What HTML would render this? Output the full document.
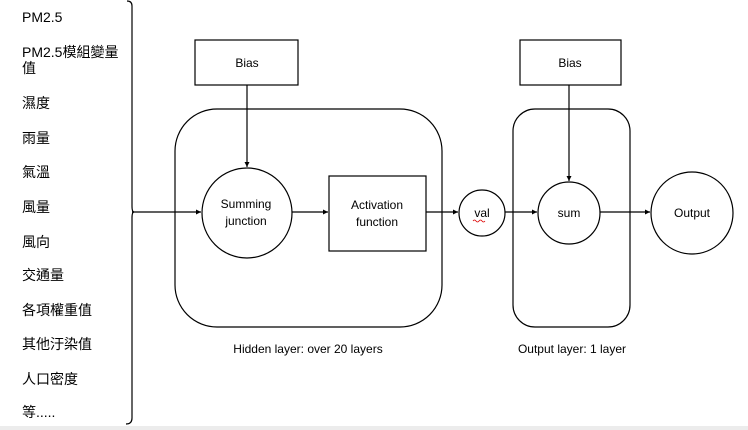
<!DOCTYPE html>
<html><head><meta charset="utf-8"><style>
html,body{margin:0;padding:0;background:#fff;}
svg{display:block;}
text{font-family:"Liberation Sans","Noto Sans CJK TC",sans-serif;fill:#000;}
</style></head><body>
<svg width="748" height="430" viewBox="0 0 748 430" xmlns="http://www.w3.org/2000/svg">
<defs><marker id="a" markerWidth="6" markerHeight="6" refX="5" refY="3" orient="auto" markerUnits="userSpaceOnUse"><path d="M0,0.5 L5,3 L0,5.5 Z" fill="#000"/></marker></defs>
<rect x="0" y="426" width="748" height="4" fill="#ececec"/>
<g font-size="14">
<text x="22" y="22">PM2.5</text>
<text x="22" y="57">PM2.5模組變量</text>
<text x="22" y="73">值</text>
<text x="22" y="108">濕度</text>
<text x="22" y="143">雨量</text>
<text x="22" y="177">氣溫</text>
<text x="22" y="212">風量</text>
<text x="22" y="247">風向</text>
<text x="22" y="280">交通量</text>
<text x="22" y="315">各項權重值</text>
<text x="22" y="349">其他汙染值</text>
<text x="22" y="384">人口密度</text>
<text x="22" y="417">等.....</text>
</g>
<g fill="none" stroke="#000" stroke-width="1.2">
<path d="M127,1 Q132,1 132,6 L132,206 Q132,212 134,212 Q132,212 132,218 L132,418 Q132,424 126,424"/>
<path d="M132,212 L201,212" marker-end="url(#a)"/>
<rect x="175" y="109" width="267" height="218" rx="42"/>
<rect x="195" y="40" width="103" height="45"/>
<path d="M247,85 L247,167" marker-end="url(#a)"/>
<circle cx="247" cy="213" r="45"/>
<path d="M292,212 L328,212" marker-end="url(#a)"/>
<rect x="329" y="176" width="97" height="75"/>
<path d="M426,212 L458,212" marker-end="url(#a)"/>
<circle cx="482" cy="213" r="23"/>
<rect x="513" y="109" width="117" height="218" rx="22"/>
<rect x="520" y="40" width="101" height="45"/>
<path d="M569,85 L569,181" marker-end="url(#a)"/>
<path d="M505,212 L537,212" marker-end="url(#a)"/>
<circle cx="569" cy="213" r="31"/>
<path d="M600,212 L650,212" marker-end="url(#a)"/>
<circle cx="692" cy="213" r="41"/>
</g>
<g font-size="12" text-anchor="middle">
<text x="247" y="67">Bias</text>
<text x="570" y="67">Bias</text>
<text x="246" y="208">Summing</text>
<text x="246" y="225">junction</text>
<text x="377" y="209">Activation</text>
<text x="377" y="226">function</text>
<text x="482" y="217">val</text>
<text x="569" y="217">sum</text>
<text x="692" y="217">Output</text>
<text x="308" y="353">Hidden layer: over 20 layers</text>
<text x="572" y="353">Output layer: 1 layer</text>
</g>
<path d="M473,221 q1.5,-2 3,0 t3,0 t3,0 t3,0" fill="none" stroke="#d00" stroke-width="0.8"/>
</svg>
</body></html>
